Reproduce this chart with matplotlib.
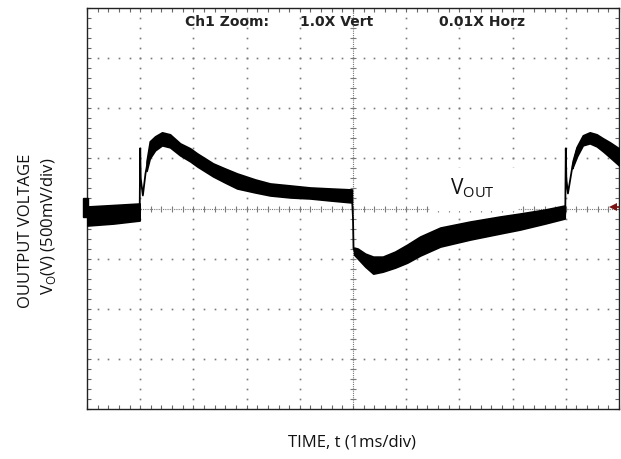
import numpy as np
import matplotlib
matplotlib.use("Agg")
import matplotlib.pyplot as plt
from matplotlib.patches import Rectangle

# scope trace, in divisions (x: 1ms/div, y: 500mV/div)
base1_t = [0.0, 0.5, 0.99]
base1_top = [0.04, 0.07, 0.10]
base1_bot = [-0.34, -0.30, -0.24]

spike1_t = [0.99, 1.0, 1.01, 1.05, 1.10, 1.18]
spike1_v = [-0.10, 1.20, 0.60, 0.26, 0.70, 1.15]

rise_t = [1.12, 1.18, 1.28, 1.41, 1.56, 1.75, 1.94, 2.07, 2.22, 2.37, 2.59,
          2.82, 3.16, 3.44, 3.82, 4.19, 4.57, 4.98]
rise_top = [0.95, 1.34, 1.44, 1.52, 1.48, 1.30, 1.20, 1.10, 1.00, 0.90, 0.80,
            0.70, 0.58, 0.50, 0.46, 0.42, 0.40, 0.38]
rise_bot = [0.75, 1.00, 1.16, 1.26, 1.22, 1.06, 0.94, 0.84, 0.74, 0.64, 0.52,
            0.40, 0.32, 0.26, 0.22, 0.20, 0.16, 0.12]

drop_t = [4.98, 5.0, 5.01, 5.05]
drop_v = [0.25, -0.20, -0.80, -0.90]

fall_t = [5.02, 5.09, 5.23, 5.38, 5.56, 5.79, 6.02, 6.26, 6.64, 7.2, 7.76,
          8.14, 8.61, 8.98]
fall_top = [-0.78, -0.80, -0.90, -0.96, -0.96, -0.86, -0.72, -0.56, -0.38,
            -0.26, -0.16, -0.10, -0.02, 0.06]
fall_bot = [-0.92, -1.00, -1.16, -1.30, -1.26, -1.18, -1.08, -0.94, -0.76,
            -0.62, -0.50, -0.42, -0.30, -0.20]

spike2_t = [8.99, 9.0, 9.01, 9.04, 9.14, 9.21]
spike2_v = [-0.10, 1.20, 0.60, 0.30, 0.94, 1.20]

rise2_t = [9.12, 9.21, 9.32, 9.45, 9.58, 9.7, 9.83, 10.0]
rise2_top = [0.85, 1.24, 1.46, 1.52, 1.48, 1.40, 1.32, 1.20]
rise2_bot = [0.80, 1.04, 1.26, 1.30, 1.24, 1.14, 1.02, 0.86]

fig = plt.figure(figsize=(6.21, 4.6), dpi=100)
ax = fig.add_axes([87 / 621, 50 / 460, 532 / 621, 401 / 460])
ax.set_xlim(0, 10)
ax.set_ylim(-4, 4)

grid_c = "#7a7a7a"
minor = np.arange(0, 10.001, 0.2)
minor_y = np.arange(-4, 4.001, 0.2)

# dotted graticule
for gx in range(1, 10):
    if gx != 5:
        ax.plot(np.full_like(minor_y, gx), minor_y, ls="none", marker="s",
                ms=1.2, mew=0, color=grid_c, zorder=1)
for gy in range(-3, 4):
    if gy != 0:
        ax.plot(minor, np.full_like(minor, gy), ls="none", marker="s",
                ms=1.2, mew=0, color=grid_c, zorder=1)

# center cross with ticks
ax.axhline(0, color=grid_c, lw=0.8, ls=(0, (1, 1)), zorder=1)
ax.axvline(5, color=grid_c, lw=0.8, ls=(0, (1, 1)), zorder=1)
ax.plot(minor, np.zeros_like(minor), ls="none", marker="|", ms=5, mew=0.8,
        color=grid_c, zorder=1)
ax.plot(np.full_like(minor_y, 5), minor_y, ls="none", marker="_", ms=5,
        mew=0.8, color=grid_c, zorder=1)

ax.set_xticks(range(0, 11))
ax.set_yticks(range(-4, 5))
ax.set_xticks(minor, minor=True)
ax.set_yticks(minor_y, minor=True)
ax.tick_params(which="both", direction="in", length=3, width=0.8,
               color="#666666", top=True, right=True,
               labelbottom=False, labelleft=False)
for s in ax.spines.values():
    s.set_linewidth(1.0)
    s.set_color("#222222")

# trace
tc = "#000000"
for t, top, bot in [(base1_t, base1_top, base1_bot),
                    (rise_t, rise_top, rise_bot),
                    (fall_t, fall_top, fall_bot),
                    (rise2_t, rise2_top, rise2_bot)]:
    ax.fill_between(t, bot, top, color=tc, lw=1.2, edgecolor=tc, zorder=3)
for t, v in [(spike1_t, spike1_v), (drop_t, drop_v), (spike2_t, spike2_v)]:
    ax.plot(t, v, color=tc, lw=1.3, zorder=3)

# ground marker left, trigger marker right
ax.add_patch(Rectangle((-0.08, -0.16), 0.1, 0.36, color="black",
                       clip_on=False, zorder=5))
ax.plot([9.9, 10.0], [0.02, 0.02], color="#6b1010", lw=1.2, zorder=5,
        clip_on=False)
ax.plot(9.88, 0.02, marker="<", ms=6, color="#7a1414", mew=0, zorder=5)

# header text
hdr = dict(fontsize=10, fontweight="bold", color="#222222",
           ha="center", va="center", family="DejaVu Sans")
ax.text(2.63, 3.75, "Ch1 Zoom:", **hdr)
ax.text(4.70, 3.75, "1.0X Vert", **hdr)
ax.text(7.42, 3.75, "0.01X Horz", **hdr)

# VOUT label with white backing
ax.add_patch(Rectangle((6.45, -0.02), 1.63, 0.82, color="white", zorder=4))
ax.text(6.82, 0.42, r"V$_\mathregular{OUT}$", fontsize=15, family="Open Sans",
        ha="left", va="center", color="#111111", zorder=6)

lab = dict(family="Open Sans", fontsize=12, color="#111111")
fig.text(352 / 621, 1 - 443 / 460, "TIME, t (1ms/div)", ha="center",
         va="center", **lab)
fig.text(26 / 621, 1 - 231 / 460, "OUUTPUT VOLTAGE", rotation=90,
         ha="center", va="center", **lab)
fig.text(49 / 621, 1 - 226 / 460, r"V$_\mathregular{O}$(V) (500mV/div)",
         rotation=90, ha="center", va="center", **lab)

fig.savefig("out.png", dpi=100)
